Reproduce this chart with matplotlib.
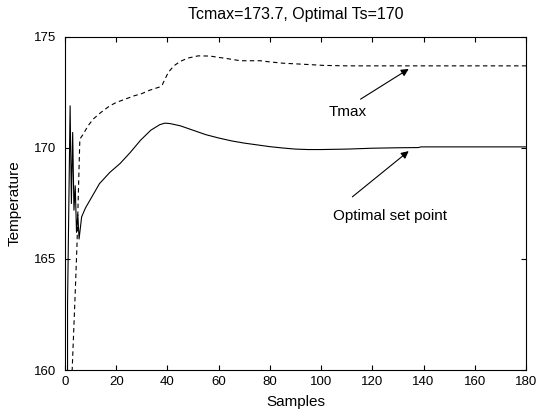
import matplotlib
matplotlib.use("Agg")
import matplotlib.pyplot as plt

plt.rcParams['font.family'] = ['Liberation Sans', 'DejaVu Sans']

# optimal set point trajectory (solid)
solid_x = [1, 1, 2, 2.5, 3, 3.5, 4, 4.5, 5, 5.5, 6.5, 8, 10, 13.5, 17.5, 21.5, 25.5,
           29.5, 33.5, 37, 39, 41, 45, 50, 55, 60, 65, 70, 75, 80, 85, 90, 95, 100,
           110, 120, 130, 138, 139, 150, 180]
solid_y = [160, 163, 171.9, 167.5, 170.7, 167.2, 168.3, 166.2, 167.0, 165.9, 166.9,
           167.3, 167.7, 168.4, 168.9, 169.3, 169.8, 170.35, 170.8, 171.05, 171.12,
           171.1, 171.0, 170.8, 170.6, 170.45, 170.32, 170.22, 170.14, 170.06, 170.0,
           169.95, 169.93, 169.93, 169.95, 169.99, 170.01, 170.02, 170.05, 170.05, 170.05]

# Tmax trajectory (dashed)
dash_x = [2, 2.8, 4.0, 4.7, 5.3, 5.8, 7, 9, 11, 14, 17.5, 20, 23.5, 27, 30, 33, 37,
          38, 40.3, 42.5, 45, 48, 52, 56.7, 60, 62.6, 68.5, 76.3, 79, 85, 95, 101,
          110, 120, 140, 160, 180]
dash_y = [155, 160, 163.5, 165.7, 168.3, 170.4, 170.6, 171.0, 171.3, 171.6, 171.9,
          172.05, 172.2, 172.35, 172.45, 172.6, 172.75, 172.85, 173.4, 173.7, 173.9,
          174.05, 174.15, 174.14, 174.08, 174.04, 173.93, 173.93, 173.89, 173.82,
          173.76, 173.72, 173.7, 173.7, 173.7, 173.7, 173.7]

xticks = list(range(0, 181, 20))
yticks = [160, 165, 170, 175]

fig = plt.figure(figsize=(5.38, 4.17), dpi=100)
ax = fig.add_axes([0.1208, 0.1127, 0.8569, 0.7986])

ax.plot(dash_x, dash_y, color='k', lw=0.8, linestyle=(0, (4, 3)))
ax.plot(solid_x, solid_y, color='k', lw=0.8)

ax.set_xlim(0, 180)
ax.set_ylim(160, 175)
ax.set_xticks(xticks)
ax.set_yticks(yticks)
ax.tick_params(direction='in', length=3.5, width=0.8, top=True, right=True,
               labelsize=9.5)
ax.tick_params(axis='y', pad=6.5)
ax.tick_params(axis='x', pad=4.5)
for s in ax.spines.values():
    s.set_linewidth(0.8)

ax.set_title('Tcmax=173.7, Optimal Ts=170', fontsize=11.5, pad=13)
ax.set_xlabel('Samples', fontsize=11, labelpad=5)
ax.set_ylabel('Temperature', fontsize=11, labelpad=9)

arrow = dict(arrowstyle='-|>', color='k', lw=0.8, mutation_scale=11, shrinkA=0, shrinkB=0)
ax.annotate('', xy=(134.2, 173.56), xytext=(115.4, 172.2), arrowprops=arrow)
ax.text(102.9, 171.6, 'Tmax', fontsize=11, va='center', ha='left')
ax.annotate('', xy=(134.2, 169.86), xytext=(112.2, 167.8), arrowprops=arrow)
ax.text(104.5, 166.95, 'Optimal set point', fontsize=11, va='center', ha='left')

fig.savefig('out.png', dpi=100)
